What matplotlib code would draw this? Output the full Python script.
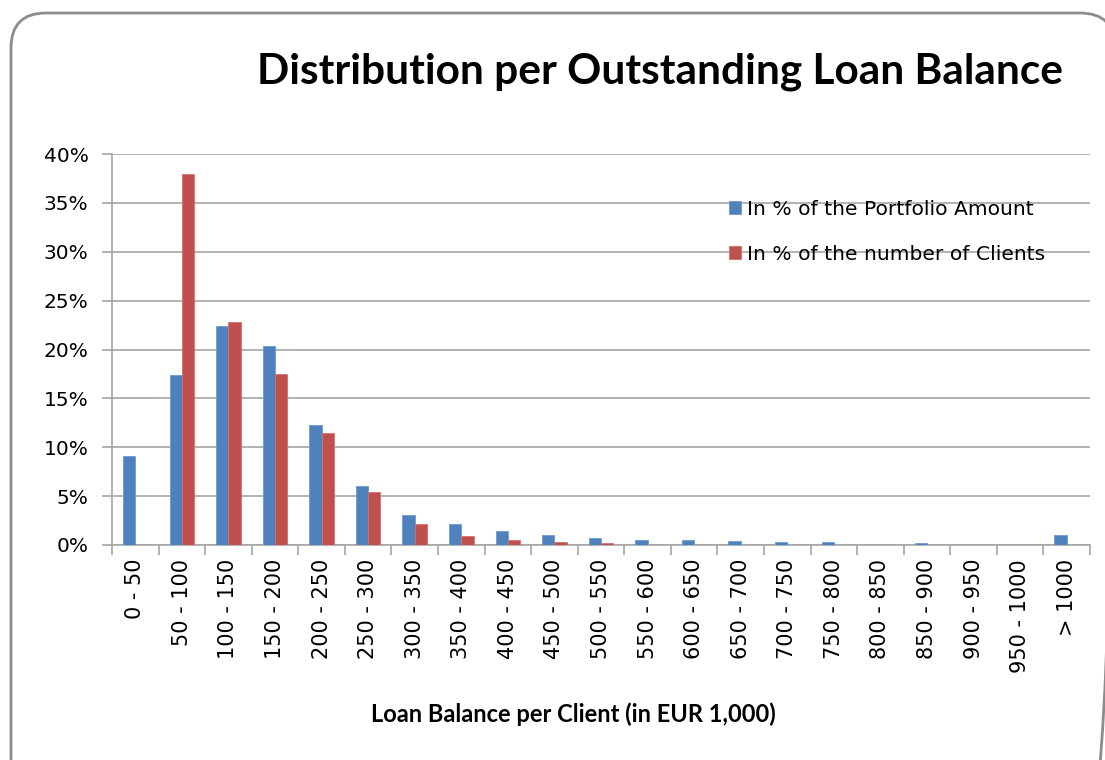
import numpy as np
import matplotlib
matplotlib.use("Agg")
import matplotlib.pyplot as plt
from matplotlib.patches import FancyBboxPatch
from matplotlib.ticker import FixedLocator, PercentFormatter

categories = ["0 - 50", "50 - 100", "100 - 150", "150 - 200", "200 - 250",
              "250 - 300", "300 - 350", "350 - 400", "400 - 450", "450 - 500",
              "500 - 550", "550 - 600", "600 - 650", "650 - 700", "700 - 750",
              "750 - 800", "800 - 850", "850 - 900", "900 - 950", "950 - 1000",
              "> 1000"]
# values in %
portfolio_amount = [9.1, 17.4, 22.4, 20.4, 12.3, 6.0, 3.05, 2.15, 1.4, 1.03,
                    0.68, 0.55, 0.55, 0.41, 0.27, 0.27, 0.0, 0.17, 0.0, 0.0, 1.03]
nb_clients = [0.0, 38.0, 22.8, 17.5, 11.5, 5.4, 2.15, 0.9, 0.55, 0.27,
              0.17, 0.0, 0.0, 0.0, 0.0, 0.0, 0.0, 0.0, 0.0, 0.0, 0.0]
series_names = ["In % of the Portfolio Amount", "In % of the number of Clients"]

blue = "#4F81BD"
red = "#C0504D"
grey = "#A6A6A6"

fig = plt.figure(figsize=(11.05, 7.6), dpi=100)

# rounded chart border, drawn in pixel units on a background axes
bg = fig.add_axes([0, 0, 1, 1])
bg.set_xlim(0, 1105)
bg.set_ylim(760, 0)
bg.axis("off")
bg.add_patch(FancyBboxPatch((11, 13), 1104, 850,
                            boxstyle="round,pad=0,rounding_size=35",
                            fill=False, edgecolor="#8C8C8C", linewidth=2))

ax = fig.add_axes([112 / 1105, 1 - 545 / 760, (1090 - 112) / 1105, 391 / 760])

x = np.arange(len(categories))
w = 0.265
ax.bar(x - w / 2, portfolio_amount, w, color=blue, edgecolor="#6C9AD0",
       linewidth=0.6, label=series_names[0], zorder=3)
ax.bar(x + w / 2, nb_clients, w, color=red, edgecolor="#D4706D",
       linewidth=0.6, label=series_names[1], zorder=3)

ax.set_xlim(-0.5, len(categories) - 0.5)
ax.set_ylim(0, 40)
ax.set_yticks(np.arange(0, 41, 5))
ax.yaxis.set_major_formatter(PercentFormatter(decimals=0))
ax.yaxis.grid(True, color=grey, linewidth=1.2, zorder=0)

ax.set_xticks(x)
ax.set_xticklabels(categories, rotation=90, fontsize=15, family="DejaVu Sans")
ax.xaxis.set_minor_locator(FixedLocator(np.arange(-0.5, len(categories), 1.0)))
ax.tick_params(axis="x", which="major", length=0, pad=10)
ax.tick_params(axis="x", which="minor", length=7, color=grey, width=1.2)
ax.tick_params(axis="y", length=7, color=grey, width=1.2, labelsize=14.5, pad=10)
for lbl in ax.get_yticklabels():
    lbl.set_family("DejaVu Sans")

for s in ["top", "right"]:
    ax.spines[s].set_visible(False)
for s in ["left", "bottom"]:
    ax.spines[s].set_color(grey)
    ax.spines[s].set_linewidth(1.2)

leg = ax.legend(loc="upper left", bbox_to_anchor=(0.612, 0.93), frameon=False,
                prop={"family": "DejaVu Sans", "size": 14.6}, handlelength=0.6,
                handleheight=0.6, handletextpad=0.3, labelspacing=1.3)

fig.text(660 / 1105, 1 - 72 / 760, "Distribution per Outstanding Loan Balance",
         ha="center", va="center", fontsize=30.5, fontweight="bold", family="Lato")
fig.text(573 / 1105, 1 - 714 / 760, "Loan Balance per Client (in EUR 1,000)",
         ha="center", va="center", fontsize=17, fontweight="bold", family="Lato")

fig.savefig("out.png", dpi=100, facecolor="white")
